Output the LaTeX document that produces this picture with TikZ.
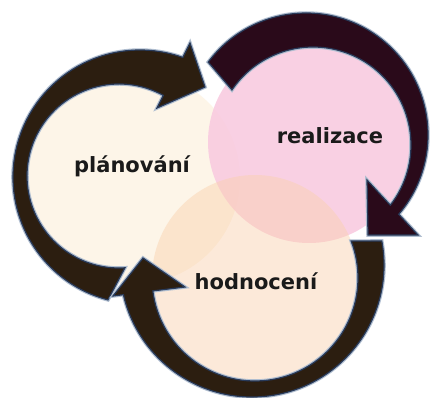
\documentclass[tikz,border=0pt]{standalone}
\usepackage{fontspec}
\setmainfont{DejaVu Sans}
\usetikzlibrary{calc}
\definecolor{creamfill}{RGB}{253,245,232}
\definecolor{pinkfill}{RGB}{249,202,224}
\definecolor{peachfill}{RGB}{250,208,172}
\definecolor{brownarrow}{RGB}{44,30,16}
\definecolor{maroonarrow}{RGB}{42,10,26}
\definecolor{edgeblue}{RGB}{40,58,90}
\definecolor{glowblue}{RGB}{176,190,208}
\definecolor{labeltext}{RGB}{26,26,26}

\begin{document}
\begin{tikzpicture}[x=1pt,y=1pt,
		arrowbody/.style={preaction={draw=glowblue,line width=3.5pt,line join=miter},draw=edgeblue,line width=1.2pt,line join=miter},
		phase/.style={circle,inner sep=0pt,minimum size=#1},
		label/.style={anchor=base,text=labeltext,font=\bfseries\fontsize{21}{25}\selectfont}]
		\useasboundingbox (0,0) rectangle (431,397);
		\fill[white] (0,0) rectangle (431,397);
		\node[phase=212pt,fill=creamfill] (plan) at (134,219) {};
		\node[phase=202pt,fill=pinkfill,fill opacity=0.88] (real) at (309,255) {};
		\node[phase=206pt,fill=peachfill,fill opacity=0.45] (eval) at (255,119) {};
		\coordinate (po) at (140,220);
		\coordinate (pi) at (119,221);
		\coordinate (ro) at (306,262);
		\coordinate (ri) at (313,252);
		\coordinate (eo) at (252,132);
		\coordinate (ei) at (255,119);
		\filldraw[arrowbody,fill=brownarrow] ($(po)+(255.4:127)$) arc[start angle=255.4,end angle=70.3,radius=127]
			-- (190,354) -- (205,310) -- (157,289)
			-- ($(pi)+(61.2:92)$) arc[start angle=61.2,end angle=273.7,radius=92] -- cycle;
		\filldraw[arrowbody,fill=maroonarrow] ($(ro)+(143.3:122)$) arc[start angle=143.3,end angle=-40.5,radius=122]
			-- (418,162) -- (368,162) -- (367,217)
			-- ($(ri)+(-37.9:98)$) arc[start angle=-37.9,end angle=145.8,radius=98] -- cycle;
		\filldraw[arrowbody,fill=brownarrow] ($(eo)+(10.5:132)$) arc[start angle=10.5,end angle=-167,radius=132]
			-- (113,101) -- (143,139) -- (185,110)
			-- ($(ei)+(-172.8:103)$) arc[start angle=-172.8,end angle=21,radius=103] -- cycle;
		\node[label] (plantext) at (132,225) {plánování};
		\node[label] (realtext) at (330,254) {realizace};
		\node[label] (evaltext) at (256,108) {hodnocení};
	\end{tikzpicture}
\end{document}
